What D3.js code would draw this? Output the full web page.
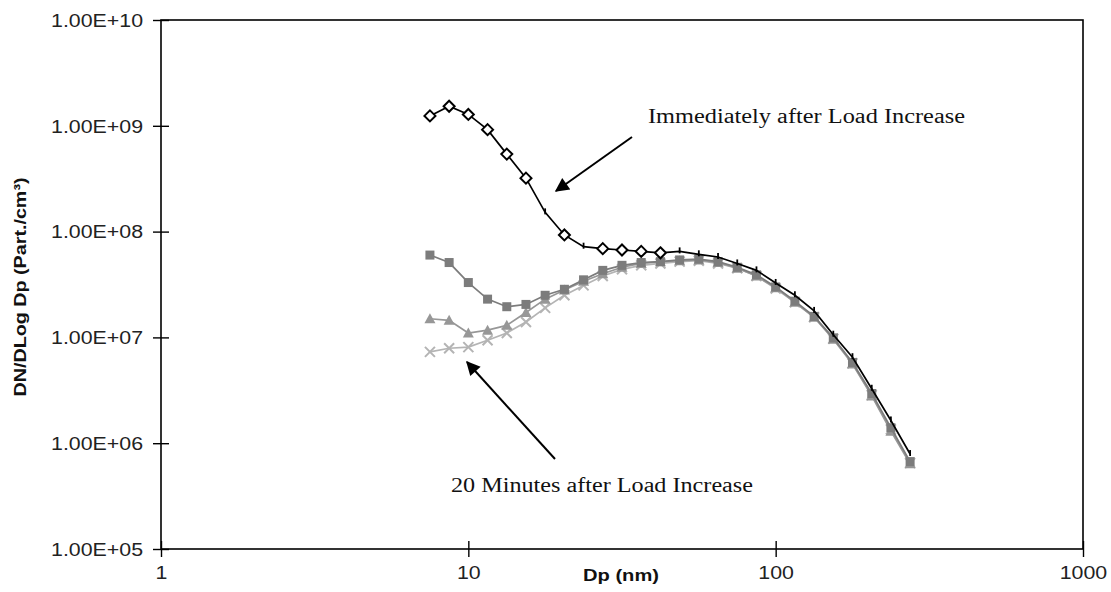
<!DOCTYPE html>
<html>
<head>
<meta charset="utf-8">
<script src="https://cdn.jsdelivr.net/npm/d3@7"></script>
<style>
  html, body { margin: 0; padding: 0; background: #fff; }
  svg { display: block; }
</style>
</head>
<body>
<svg id="chart" width="1111" height="592"></svg>
<script>
// Particle diameter channels (nm), 16 per decade
const diameters = [7.5, 8.66, 10, 11.55, 13.34, 15.4, 17.78, 20.54, 23.71, 27.38, 31.62, 36.52,
  42.17, 48.7, 56.23, 64.94, 74.99, 86.6, 100, 115.5, 133.4, 154, 177.8, 205.4, 237.1, 273.8];

// DN/DLog Dp (Part./cm³) immediately after the load increase
const immediate = [1.24e9, 1.53e9, 1.28e9, 9.2e8, 5.4e8, 3.2e8, 1.52e8, 9.3e7, 7.2e7, 6.9e7, 6.7e7, 6.5e7,
  6.3e7, 6.5e7, 6.1e7, 5.75e7, 5.0e7, 4.3e7, 3.27e7, 2.5e7, 1.78e7, 1.06e7, 6.5e6, 3.27e6, 1.64e6, 7.9e5];

// Later scans after the load increase (grey curves)
const scanSquares = [6.0e7, 5.1e7, 3.3e7, 2.3e7, 1.95e7, 2.05e7, 2.5e7, 2.85e7, 3.5e7, 4.3e7, 4.8e7, 5.1e7,
  5.2e7, 5.4e7, 5.5e7, 5.2e7, 4.6e7, 3.9e7, 3.0e7, 2.2e7, 1.58e7, 9.9e6, 5.8e6, 2.95e6, 1.4e6, 6.7e5];
const scanTriangles = [1.5e7, 1.45e7, 1.1e7, 1.17e7, 1.3e7, 1.72e7, 2.3e7, 2.8e7, 3.4e7, 4.0e7, 4.6e7, 5.0e7,
  5.2e7, 5.3e7, 5.4e7, 5.1e7, 4.5e7, 3.8e7, 2.95e7, 2.15e7, 1.55e7, 9.6e6, 5.6e6, 2.8e6, 1.3e6, 6.4e5];
const scanCrosses = [7.3e6, 7.9e6, 8.1e6, 9.4e6, 1.1e7, 1.4e7, 1.9e7, 2.5e7, 3.1e7, 3.8e7, 4.4e7, 4.8e7,
  5.0e7, 5.2e7, 5.3e7, 5.0e7, 4.5e7, 3.8e7, 2.9e7, 2.15e7, 1.55e7, 9.7e6, 5.7e6, 2.85e6, 1.35e6, 6.5e5];

// Axis ticks and their labels
const xTicks = [1, 10, 100, 1000];
const xTickLabels = ["1", "10", "100", "1000"];
const yTicks = [1e5, 1e6, 1e7, 1e8, 1e9, 1e10];
const yTickLabels = ["1.00E+05", "1.00E+06", "1.00E+07", "1.00E+08", "1.00E+09", "1.00E+10"];

const svg = d3.select("#chart");
const plot = { left: 161, right: 1083, top: 20, bottom: 549 };

const x = d3.scaleLog().domain([1, 1000]).range([plot.left, plot.right]);
const y = d3.scaleLog().domain([1e5, 1e10]).range([plot.bottom, plot.top]);

const SANS = "Liberation Sans, Arial, sans-serif";
const SERIF = "Liberation Serif, Times New Roman, serif";
const SX = 1.22; // horizontal widening of the lettering

function widen(sel, factor) {
  sel.each(function () {
    const w = this.getComputedTextLength();
    d3.select(this).attr("textLength", w * factor).attr("lengthAdjust", "spacingAndGlyphs");
  });
}

// Plot frame
svg.append("rect")
  .attr("x", plot.left).attr("y", plot.top)
  .attr("width", plot.right - plot.left).attr("height", plot.bottom - plot.top)
  .attr("fill", "none").attr("stroke", "#000").attr("stroke-width", 1.6);

// Y axis
const yAxis = svg.append("g")
  .attr("transform", `translate(${plot.left},0)`)
  .call(d3.axisLeft(y).tickValues(yTicks).tickSize(8).tickPadding(10)
    .tickFormat((d, i) => yTickLabels[i]));
yAxis.select(".domain").remove();
yAxis.selectAll(".tick line").attr("x1", -8).attr("x2", 8).attr("stroke", "#000").attr("stroke-width", 1.4);
yAxis.selectAll(".tick text")
  .attr("font-family", SANS).attr("font-size", 17.5).attr("fill", "#222").attr("dy", "0.36em")
  .call(widen, SX);

// X axis
const xAxis = svg.append("g")
  .attr("transform", `translate(0,${plot.bottom})`)
  .call(d3.axisBottom(x).tickValues(xTicks).tickSize(8).tickPadding(10)
    .tickFormat((d, i) => xTickLabels[i]));
xAxis.select(".domain").remove();
xAxis.selectAll(".tick line").attr("y1", -8).attr("y2", 8).attr("stroke", "#000").attr("stroke-width", 1.4);
xAxis.selectAll(".tick text")
  .attr("font-family", SANS).attr("font-size", 17.5).attr("fill", "#222")
  .call(widen, SX);

// Axis titles
svg.append("text")
  .attr("x", 621).attr("y", 581)
  .attr("text-anchor", "middle")
  .attr("font-family", SANS).attr("font-size", 16.5).attr("font-weight", "bold").attr("fill", "#111")
  .text("Dp (nm)")
  .call(widen, SX);

svg.append("text")
  .attr("transform", "translate(26,287) rotate(-90)")
  .attr("text-anchor", "middle")
  .attr("font-family", SANS).attr("font-size", 17).attr("font-weight", "bold").attr("fill", "#111")
  .attr("textLength", 219).attr("lengthAdjust", "spacingAndGlyphs")
  .text("DN/DLog Dp (Part./cm³)");

// Curves
const line = d3.line()
  .x(d => x(d[0]))
  .y(d => y(d[1]));

function pairs(values) { return diameters.map((d, i) => [d, values[i]]); }

const greySeries = [
  { values: scanCrosses, color: "#b4b4b4", marker: "cross" },
  { values: scanTriangles, color: "#979797", marker: "triangle" },
  { values: scanSquares, color: "#7c7c7c", marker: "square" }
];

greySeries.forEach(s => {
  const pts = pairs(s.values);
  svg.append("path")
    .attr("d", line(pts))
    .attr("fill", "none").attr("stroke", s.color).attr("stroke-width", 1.7);
  const g = svg.append("g");
  pts.forEach(p => {
    const cx = x(p[0]), cy = y(p[1]);
    if (s.marker === "square") {
      g.append("rect").attr("x", cx - 4.5).attr("y", cy - 4.5).attr("width", 9).attr("height", 9)
        .attr("fill", s.color);
    } else if (s.marker === "triangle") {
      g.append("path").attr("d", `M${cx},${cy - 5.5}L${cx + 5.5},${cy + 4.5}L${cx - 5.5},${cy + 4.5}Z`)
        .attr("fill", s.color);
    } else {
      g.append("path").attr("d", `M${cx - 5},${cy - 5}L${cx + 5},${cy + 5}M${cx + 5},${cy - 5}L${cx - 5},${cy + 5}`)
        .attr("stroke", s.color).attr("stroke-width", 2).attr("fill", "none");
    }
  });
});

// Black curve: open diamonds on the small-particle side, short ticks elsewhere
const immPts = pairs(immediate);
svg.append("path")
  .attr("d", line(immPts))
  .attr("fill", "none").attr("stroke", "#000").attr("stroke-width", 1.7);
const diamondIdx = new Set([0, 1, 2, 3, 4, 5, 7, 9, 10, 11, 12]);
const gb = svg.append("g");
immPts.forEach((p, i) => {
  const cx = x(p[0]), cy = y(p[1]);
  if (diamondIdx.has(i)) {
    gb.append("path").attr("d", `M${cx},${cy - 5.5}L${cx + 5.5},${cy}L${cx},${cy + 5.5}L${cx - 5.5},${cy}Z`)
      .attr("fill", "#fff").attr("stroke", "#000").attr("stroke-width", 2);
  } else {
    gb.append("line").attr("x1", cx).attr("x2", cx).attr("y1", cy - 4).attr("y2", cy + 2)
      .attr("stroke", "#000").attr("stroke-width", 1.8);
  }
});

// Annotations with arrows
svg.append("defs").append("marker")
  .attr("id", "head").attr("viewBox", "0 0 10 10").attr("refX", 9).attr("refY", 5)
  .attr("markerWidth", 20).attr("markerHeight", 14).attr("markerUnits", "userSpaceOnUse")
  .attr("orient", "auto")
  .append("path").attr("d", "M0,0L10,5L0,10Z").attr("fill", "#000");

svg.append("line")
  .attr("x1", 632).attr("y1", 137).attr("x2", 556).attr("y2", 191)
  .attr("stroke", "#000").attr("stroke-width", 2).attr("marker-end", "url(#head)");
svg.append("line")
  .attr("x1", 555).attr("y1", 459).attr("x2", 467).attr("y2", 362)
  .attr("stroke", "#000").attr("stroke-width", 2).attr("marker-end", "url(#head)");

svg.append("text")
  .attr("x", 648).attr("y", 123)
  .attr("font-family", SERIF).attr("font-size", 20).attr("fill", "#111")
  .attr("textLength", 317).attr("lengthAdjust", "spacingAndGlyphs")
  .text("Immediately after Load Increase");
svg.append("text")
  .attr("x", 451).attr("y", 492)
  .attr("font-family", SERIF).attr("font-size", 20).attr("fill", "#111")
  .attr("textLength", 302).attr("lengthAdjust", "spacingAndGlyphs")
  .text("20 Minutes after Load Increase");
</script>
</body>
</html>
